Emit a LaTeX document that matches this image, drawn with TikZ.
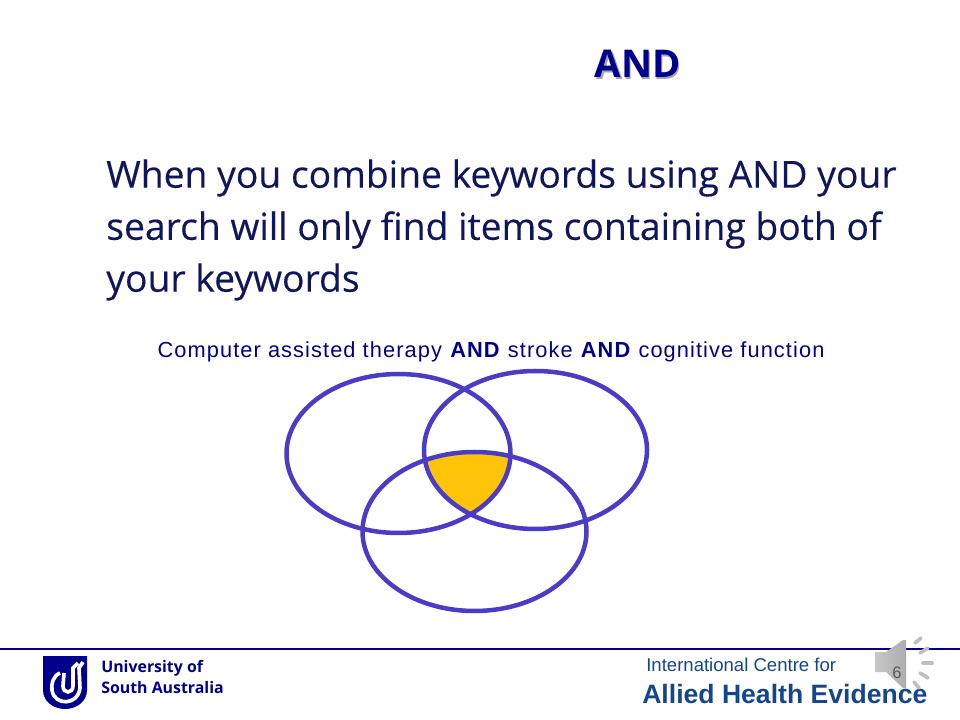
\documentclass[tikz,border=0pt]{standalone}
\usepackage{fontspec}
\setmainfont{Open Sans}
\newfontfamily\bodyfont[FakeBold=0.25]{Open Sans}
\newfontfamily\arialfont{Liberation Sans}
\newfontfamily\termsfont[LetterSpace=5]{Liberation Sans}
\usetikzlibrary{positioning}
\definecolor{navytext}{RGB}{16,22,92}
\definecolor{titleblue}{RGB}{0,0,140}
\definecolor{ringblue}{RGB}{75,60,200}
\definecolor{overlapyellow}{RGB}{255,195,10}
\definecolor{ruleblue}{RGB}{0,0,128}
\definecolor{centreblue}{RGB}{20,70,140}
\tikzset{
	bodyline/.style={anchor=west,inner sep=0pt,text=navytext,font=\bodyfont\fontsize{26.5}{30}\selectfont},
	titletext/.style={font=\bfseries\fontsize{27.2}{30}\selectfont},
	ring/.style={draw=ringblue,line width=3.2pt},
	wave/.style={draw=black!25,line width=2.6pt,line cap=round}
}

\begin{document}
\begin{tikzpicture}[x=0.025cm,y=-0.025cm]
	\useasboundingbox (0,0) rectangle (960,720);
	% heading and text
	\node[text=black!35,titletext] at (639,66) {AND};
	\node[text=titleblue,titletext] (title) at (637.5,64) {AND};
	\node[bodyline] (line1) at (106,178) {When you combine keywords using AND your};
	\node[bodyline] (line2) at (106,230) {search will only find items containing both of};
	\node[bodyline] (line3) at (106,282) {your keywords};
	\node[text=titleblue,font=\termsfont\fontsize{15.5}{18}\selectfont] (terms) at (491,352)
		{Computer assisted therapy \textbf{AND} stroke \textbf{AND} cognitive function};
	% venn
	\begin{scope}
		\clip (398.5,453.5) ellipse (112 and 79.5);
		\clip (535.5,450) ellipse (111.5 and 79);
		\fill[overlapyellow] (474.5,531.5) ellipse (112 and 79.5);
	\end{scope}
	\draw[ring] (398.5,453.5) ellipse (112 and 79.5);
	\draw[ring] (535.5,450) ellipse (111.5 and 79);
	\draw[ring] (474.5,531.5) ellipse (112 and 79.5);
	% footer
	\coordinate (ruleL) at (0,649);
	\coordinate (ruleR) at (960,649);
	\draw[ruleblue,line width=1.4pt] (ruleL) -- (ruleR);
	\fill[titleblue] (43,656) -- (87,656) -- (87,690) .. controls (87,702) and (76,709) .. (65,709)
		.. controls (54,709) and (43,702) .. (43,690) -- cycle;
	\draw[white,line width=2.6pt] (60,673) .. controls (53,676) and (51,684) .. (52,690)
		.. controls (54,706) and (78,706) .. (80,688) -- (79,668) -- (83,662);
	\draw[white,line width=2.6pt] (64,673) -- (63,686) .. controls (63,694) and (73,694) .. (73,686)
		-- (73,668) -- (78,663);
	\node[anchor=west,inner sep=0pt,text=titleblue,align=left,font=\bfseries\fontsize{11.3}{14.8}\selectfont] (unisa) at (101,677)
		{University of\\South Australia};
	\node[anchor=west,inner sep=0pt,text=centreblue,font=\arialfont\fontsize{13.2}{15}\selectfont] (centre) at (646,665) {International Centre for};
	\node[anchor=west,inner sep=0pt,text=centreblue,font=\arialfont\bfseries\fontsize{18.9}{22}\selectfont] (allied) at (642,694) {Allied Health Evidence};
	% speaker
	\shade[left color=black!22,right color=black!32] (875,652) -- (886,652) -- (903,640) -- (906,640) -- (906,688) -- (903,688) -- (886,672) -- (875,672) -- cycle;
	\node[text=black!65,font=\arialfont\fontsize{11.8}{13}\selectfont] (pagenum) at (897,673) {6};
	\draw[wave] (915,643) -- (921,638);
	\draw[wave] (920,653) -- (928,648);
	\draw[wave] (923,663) -- (932,663);
	\draw[wave] (920,673) -- (928,678);
	\draw[wave] (914,682) -- (919,688);
\end{tikzpicture}
\end{document}
